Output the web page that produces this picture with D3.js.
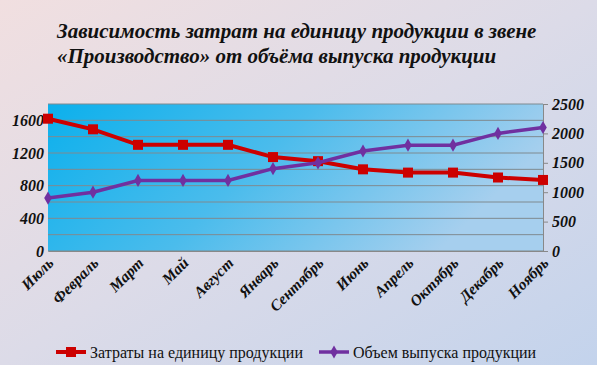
<!DOCTYPE html>
<html>
<head>
<meta charset="utf-8">
<script src="https://cdn.jsdelivr.net/npm/d3@7"></script>
<style>
  body { margin: 0; }
  svg { display: block; font-family: "Liberation Serif", serif; }
</style>
</head>
<body>
<svg></svg>
<script>
var WIDTH = 597;
var HEIGHT = 365;

var months = ['Июль', 'Февраль', 'Март', 'Май', 'Август', 'Январь', 'Сентябрь',
  'Июнь', 'Апрель', 'Октябрь', 'Декабрь', 'Ноябрь'];
var costs = [1620, 1490, 1300, 1300, 1300, 1150, 1100, 1000, 960, 960, 900, 870];
var volume = [900, 1000, 1200, 1200, 1200, 1400, 1500, 1700, 1800, 1800, 2000, 2100];
var leftTicks = [0, 400, 800, 1200, 1600];
var rightTicks = [0, 500, 1000, 1500, 2000, 2500];
var gridValues = [0, 200, 400, 600, 800, 1000, 1200, 1400, 1600, 1800];
var seriesNames = ['Затраты на единицу продукции', 'Объем выпуска продукции'];

var plotLeft = 48, plotRight = 543, plotTop = 104, plotBottom = 251;

var svg = d3.select('svg')
  .attr('width', WIDTH)
  .attr('height', HEIGHT);

var defs = svg.append('defs');
var bg = defs.append('linearGradient').attr('id', 'bg')
  .attr('x1', 0).attr('y1', 0).attr('x2', 1).attr('y2', 1);
bg.append('stop').attr('offset', '0%').attr('stop-color', '#f1dfe0');
bg.append('stop').attr('offset', '50%').attr('stop-color', '#dcdbe8');
bg.append('stop').attr('offset', '100%').attr('stop-color', '#c3d3ec');

var plotBg = defs.append('linearGradient').attr('id', 'plotbg')
  .attr('x1', 0).attr('y1', 0).attr('x2', 1).attr('y2', 0.3);
plotBg.append('stop').attr('offset', '0%').attr('stop-color', '#0cb0ec');
plotBg.append('stop').attr('offset', '50%').attr('stop-color', '#4bbcec');
plotBg.append('stop').attr('offset', '100%').attr('stop-color', '#a6cfee');

svg.append('rect')
  .attr('width', WIDTH).attr('height', HEIGHT)
  .attr('fill', 'url(#bg)');

// title
var title = svg.append('text')
  .attr('font-size', 21)
  .attr('font-weight', 'bold')
  .attr('font-style', 'italic')
  .attr('fill', '#111');
title.append('tspan').attr('x', 57).attr('y', 38)
  .text('Зависимость затрат на единицу продукции в звене');
title.append('tspan').attr('x', 57).attr('y', 63)
  .text('«Производство» от объёма выпуска продукции');

var xScale = d3.scalePoint().domain(months).range([plotLeft, plotRight]).padding(0);
var yLeft = d3.scaleLinear().domain([0, 1800]).range([plotBottom, plotTop]);
var yRight = d3.scaleLinear().domain([0, 2500]).range([plotBottom, plotTop]);

svg.append('rect')
  .attr('x', plotLeft).attr('y', plotTop)
  .attr('width', plotRight - plotLeft).attr('height', plotBottom - plotTop)
  .attr('fill', 'url(#plotbg)');

// gridlines
svg.append('g')
  .selectAll('line')
  .data(gridValues)
  .enter()
  .append('line')
  .attr('x1', plotLeft).attr('x2', plotRight)
  .attr('y1', function(d) { return yLeft(d); })
  .attr('y2', function(d) { return yLeft(d); })
  .attr('stroke', '#7f8a90')
  .attr('stroke-width', 1);

// left axis
var leftAxis = svg.append('g')
  .attr('transform', 'translate(' + plotLeft + ',0)')
  .call(d3.axisLeft(yLeft).tickValues(leftTicks).tickSize(0).tickPadding(4)
    .tickFormat(d3.format('d')));
leftAxis.select('.domain').remove();

// right axis
var rightAxis = svg.append('g')
  .attr('transform', 'translate(' + plotRight + ',0)')
  .call(d3.axisRight(yRight).tickValues(rightTicks).tickSize(5).tickPadding(4)
    .tickFormat(d3.format('d')));
rightAxis.select('.domain').attr('stroke', '#888');
rightAxis.selectAll('.tick line').attr('stroke', '#888');

// bottom axis
var bottomAxis = svg.append('g')
  .attr('transform', 'translate(0,' + plotBottom + ')')
  .call(d3.axisBottom(xScale).tickSize(0).tickPadding(0));
bottomAxis.select('.domain').attr('stroke', '#888');
bottomAxis.selectAll('.tick text')
  .attr('text-anchor', 'end')
  .attr('dy', 0)
  .attr('y', 0)
  .attr('transform', 'translate(6,13) rotate(-45)');

svg.selectAll('.tick text')
  .attr('font-family', '"Liberation Serif", serif')
  .attr('font-weight', 'bold')
  .attr('font-style', 'italic')
  .attr('fill', '#111');
leftAxis.selectAll('.tick text').attr('font-size', 16);
rightAxis.selectAll('.tick text').attr('font-size', 16);
bottomAxis.selectAll('.tick text').attr('font-size', 15.5);

// cost line (left axis)
var costLine = d3.line()
  .x(function(d, i) { return xScale(months[i]); })
  .y(function(d) { return yLeft(d); });
svg.append('path')
  .datum(costs)
  .attr('d', costLine)
  .attr('fill', 'none')
  .attr('stroke', '#cc0000')
  .attr('stroke-width', 4);
svg.append('g')
  .selectAll('rect')
  .data(costs)
  .enter()
  .append('rect')
  .attr('x', function(d, i) { return xScale(months[i]) - 5; })
  .attr('y', function(d) { return yLeft(d) - 5; })
  .attr('width', 10).attr('height', 10)
  .attr('fill', '#cc0000');

// volume line (right axis)
var volLine = d3.line()
  .x(function(d, i) { return xScale(months[i]); })
  .y(function(d) { return yRight(d); });
svg.append('path')
  .datum(volume)
  .attr('d', volLine)
  .attr('fill', 'none')
  .attr('stroke', '#7030a0')
  .attr('stroke-width', 3.5);
svg.append('g')
  .selectAll('path')
  .data(volume)
  .enter()
  .append('path')
  .attr('d', d3.symbol().type(d3.symbolDiamond).size(50))
  .attr('transform', function(d, i) {
    return 'translate(' + xScale(months[i]) + ',' + yRight(d) + ')';
  })
  .attr('fill', '#7030a0');

// legend
var legend = svg.append('g').attr('transform', 'translate(0,352)');
legend.append('line')
  .attr('x1', 56).attr('x2', 86).attr('y1', 0).attr('y2', 0)
  .attr('stroke', '#cc0000').attr('stroke-width', 4);
legend.append('rect')
  .attr('x', 66).attr('y', -5).attr('width', 10).attr('height', 10)
  .attr('fill', '#cc0000');
legend.append('text')
  .attr('x', 90).attr('y', 6)
  .attr('font-size', 16).attr('fill', '#111')
  .text(seriesNames[0]);
legend.append('line')
  .attr('x1', 319).attr('x2', 349).attr('y1', 0).attr('y2', 0)
  .attr('stroke', '#7030a0').attr('stroke-width', 3.5);
legend.append('path')
  .attr('d', d3.symbol().type(d3.symbolDiamond).size(50))
  .attr('transform', 'translate(334,0)')
  .attr('fill', '#7030a0');
legend.append('text')
  .attr('x', 353).attr('y', 6)
  .attr('font-size', 16).attr('fill', '#111')
  .text(seriesNames[1]);
</script>
</body>
</html>
